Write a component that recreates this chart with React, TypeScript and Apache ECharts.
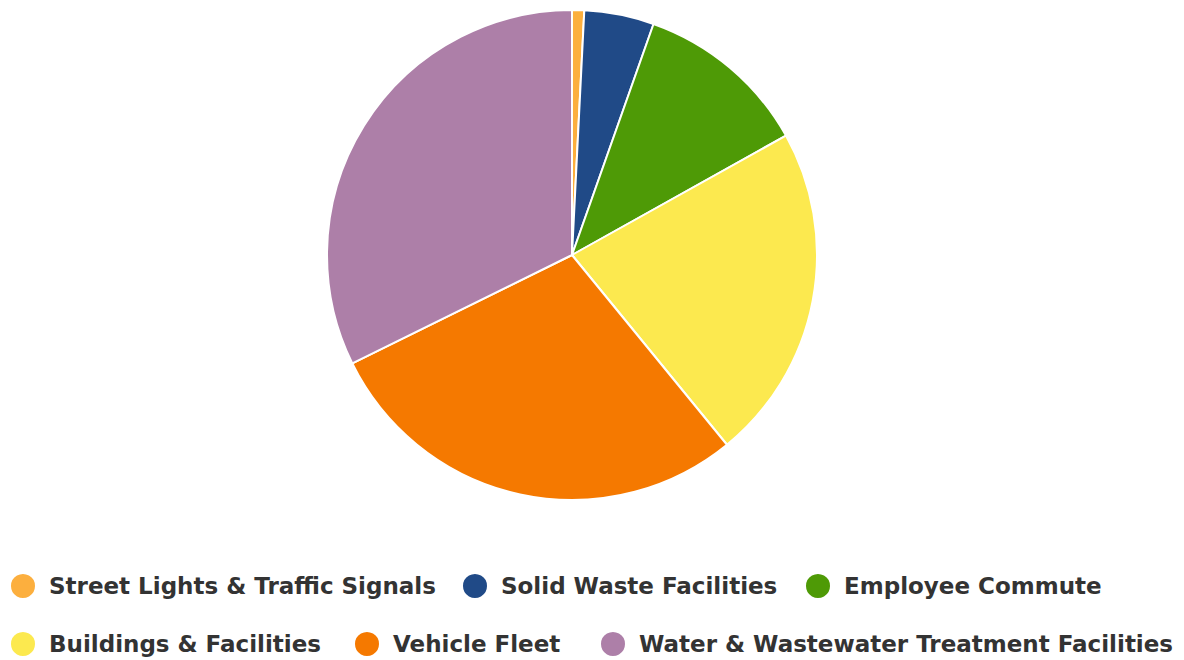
import React, { useEffect, useRef } from "react";
import * as echarts from "echarts";

const categories = [
  "Street Lights & Traffic Signals",
  "Solid Waste Facilities",
  "Employee Commute",
  "Buildings & Facilities",
  "Vehicle Fleet",
  "Water & Wastewater Treatment Facilities",
];
const values = [0.8, 4.6, 11.5, 22.2, 28.6, 32.3];
const colors = ["#FCAF3E", "#204A87", "#4E9A06", "#FCE94F", "#F57900", "#AD7FA8"];

const legendPos = [
  { left: 9, top: 572 },
  { left: 461, top: 572 },
  { left: 804, top: 572 },
  { left: 9, top: 630 },
  { left: 353, top: 630 },
  { left: 599, top: 630 },
];

export default function App() {
  const ref = useRef<HTMLDivElement>(null);
  useEffect(() => {
    if (!ref.current) return;
    const chart = echarts.init(ref.current, null, { renderer: "svg" });
    chart.setOption({
      animation: false,
      color: colors,
      legend: categories.map((name, i) => ({
        data: [name],
        left: legendPos[i].left,
        top: legendPos[i].top,
        icon: "circle",
        itemWidth: 26,
        itemHeight: 26,
        padding: 0,
        textStyle: {
          fontFamily: "DejaVu Sans",
          fontWeight: "bold",
          fontSize: 23,
          color: "#333333",
          padding: [0, 0, 0, 8],
        },
      })),
      series: [
        {
          type: "pie",
          center: [572, 255],
          radius: 245,
          startAngle: 90,
          clockwise: true,
          label: { show: false },
          labelLine: { show: false },
          itemStyle: { borderColor: "#ffffff", borderWidth: 2 },
          emphasis: { disabled: true },
          data: categories.map((name, i) => ({ name, value: values[i] })),
        },
      ],
    });
    return () => chart.dispose();
  }, []);
  return (
    <div
      ref={ref}
      style={{ position: "fixed", left: 0, top: 0, width: 1184, height: 660, background: "#fff" }}
    />
  );
}
